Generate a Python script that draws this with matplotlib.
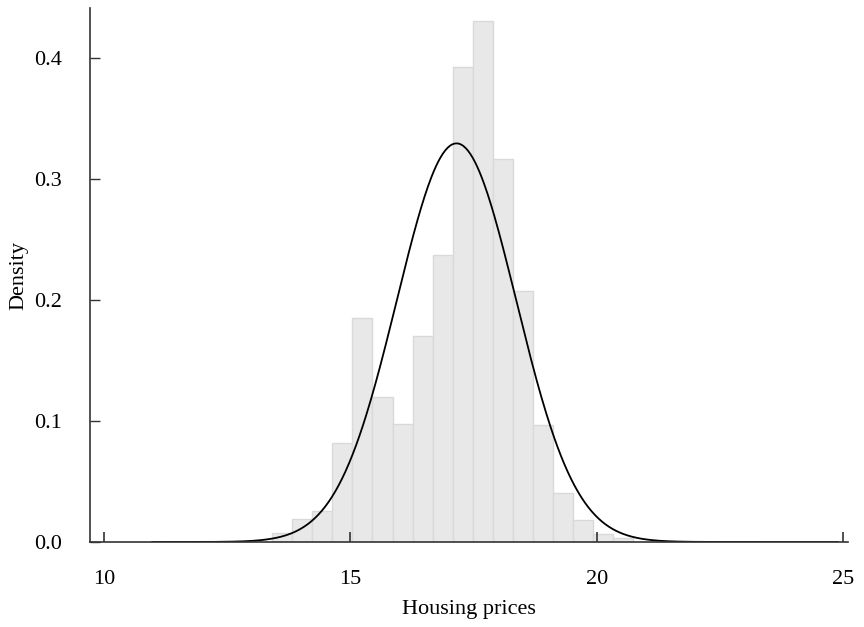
import numpy as np
import matplotlib
matplotlib.use("Agg")
import matplotlib.pyplot as plt

plt.rcParams['font.family'] = ['Liberation Serif', 'DejaVu Serif']

# histogram of log housing prices (density scale)
bin_start = 13.414
bin_width = 0.4069
densities = [0.0074, 0.0188, 0.0254, 0.082, 0.185, 0.1196, 0.0975, 0.170,
             0.2375, 0.3928, 0.4308, 0.3163, 0.2077, 0.0967, 0.0402, 0.0182,
             0.0066, 0.003]

# fitted normal curve
mu = 17.154
sigma = 1.211
curve_from, curve_to = 10.98, 24.89

x_ticks = [10, 15, 20, 25]
y_ticks = [0.0, 0.1, 0.2, 0.3, 0.4]

fig = plt.figure(figsize=(8.64, 6.27), dpi=100)
ax = fig.add_axes([0.1042, 0.1356, 0.8773, 0.8516])

lefts = bin_start + bin_width * np.arange(len(densities))
ax.bar(lefts, densities, width=bin_width, align='edge',
       color='#e8e8e8', edgecolor='#d9d9d9', linewidth=1.0)

xs = np.linspace(curve_from, curve_to, 600)
pdf = np.exp(-0.5 * ((xs - mu) / sigma) ** 2) / (sigma * np.sqrt(2 * np.pi))
ax.plot(xs, pdf, color='black', linewidth=1.3)

ax.set_xlim(9.716, 25.1)
ax.set_ylim(0, 0.4413)
ax.set_xticks(x_ticks)
ax.set_yticks(y_ticks)
ax.set_xticklabels([str(t) for t in x_ticks])
ax.set_yticklabels([f"{t:.1f}" for t in y_ticks])

for side in ['top', 'right']:
    ax.spines[side].set_visible(False)
for side in ['left', 'bottom']:
    ax.spines[side].set_color('#333333')
    ax.spines[side].set_linewidth(1.2)

ax.tick_params(axis='x', direction='in', length=7, width=1.2, pad=20,
               labelsize=16, color='#333333')
ax.tick_params(axis='y', direction='in', length=7, width=1.0, pad=20,
               labelsize=16, color='#333333')

ax.set_xlabel("Housing prices", fontsize=16, labelpad=8)
ax.set_ylabel("Density", fontsize=16, labelpad=4)

fig.savefig("out.png", dpi=100)
